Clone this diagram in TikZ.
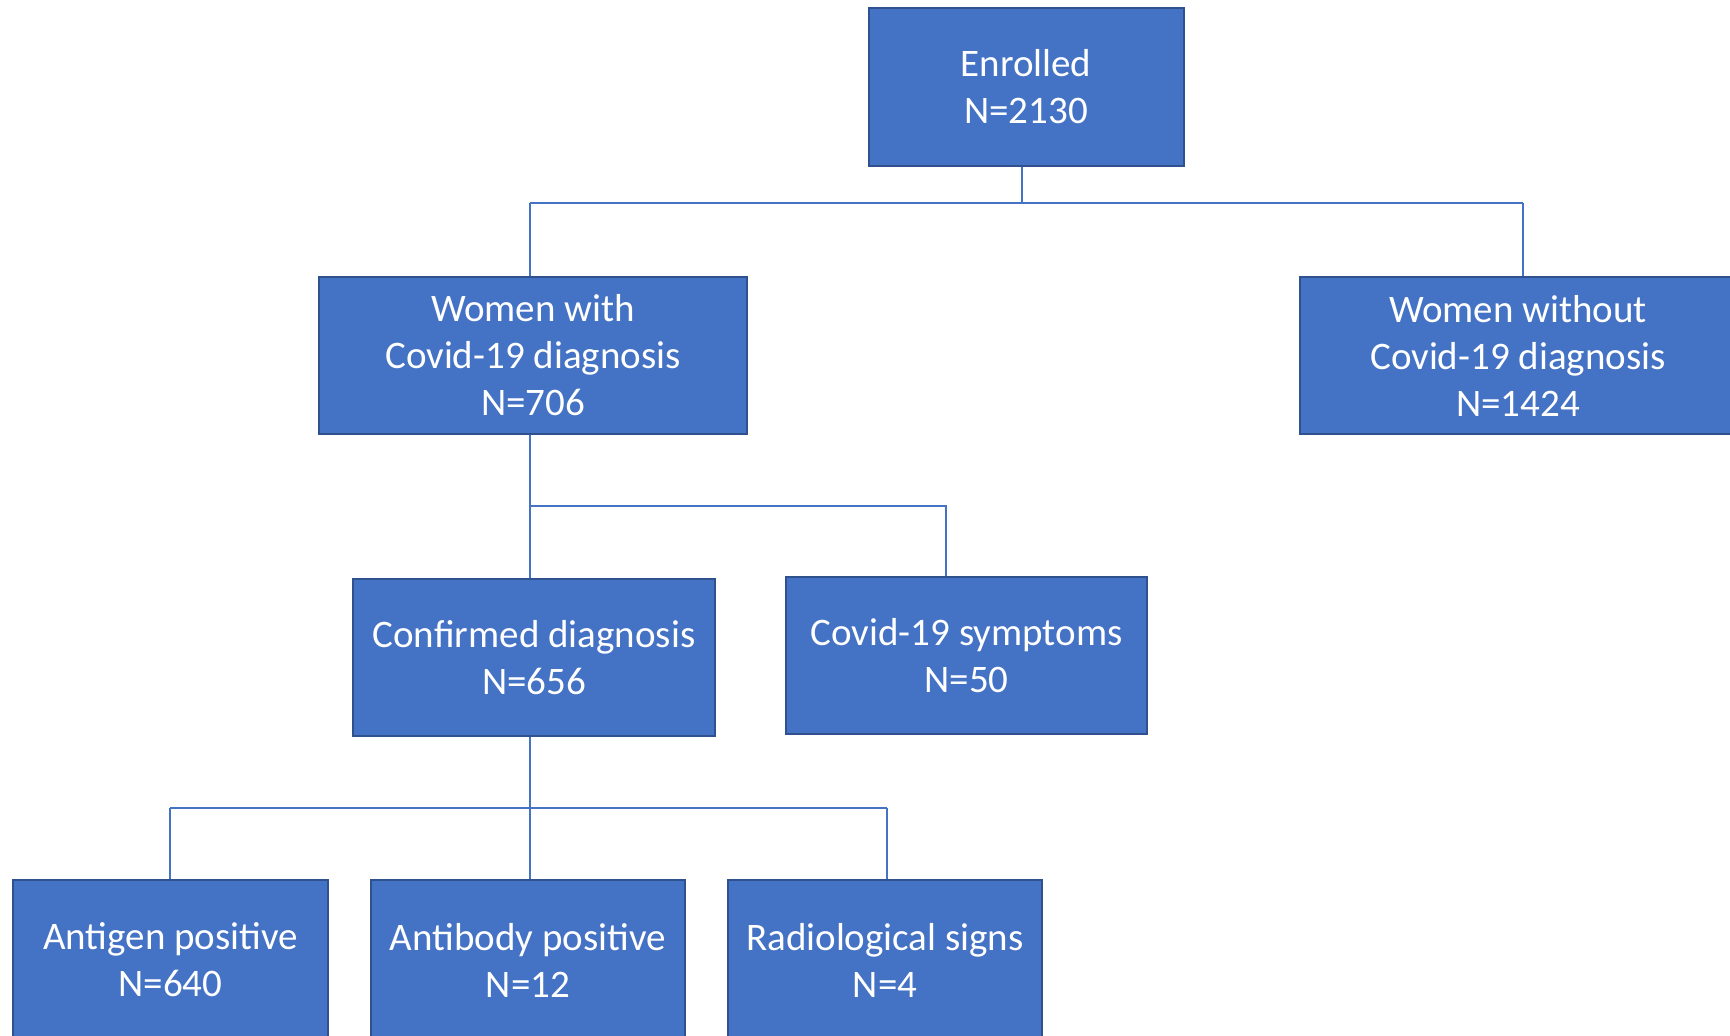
\documentclass[tikz,border=0pt]{standalone}
\usepackage{fontspec}
\setmainfont{Carlito}
\definecolor{boxblue}{HTML}{4472C4}
\definecolor{rimblue}{HTML}{2F528F}

\begin{document}
\begin{tikzpicture}[
        x=0.5pt, y=-0.5pt,
        every node/.style={rectangle, fill=boxblue, draw=rimblue, line width=1pt,
            text=white, align=center, inner sep=0pt,
            font=\fontsize{19.5}{23.5}\selectfont},
        link/.style={draw=boxblue, line width=0.9pt}
    ]
 \useasboundingbox (0,0) rectangle (1730,1036);
 \clip (0,0) rectangle (1730,1036);

 \node[minimum width=157.5pt, minimum height=79pt] (enrol) at (1026,87) {Enrolled\\N=2130};
 \node[minimum width=214pt, minimum height=78.5pt] (withdx) at (533,355.5) {Women with\\Covid-19 diagnosis\\N=706};
 \node[minimum width=218pt, minimum height=78.5pt] (withoutdx) at (1518,355.5) {Women without\\Covid-19 diagnosis\\N=1424};
 \node[minimum width=181pt, minimum height=78.5pt] (confirmed) at (534,657.5) {Confirmed diagnosis\\N=656};
 \node[minimum width=180.5pt, minimum height=78.5pt] (symptoms) at (966.5,655.5) {Covid-19 symptoms\\N=50};
 \node[minimum width=157.5pt, minimum height=80pt] (antigen) at (170.5,960) {Antigen positive\\N=640};
 \node[minimum width=157pt, minimum height=80pt] (antibody) at (528,960) {Antibody positive\\N=12};
 \node[minimum width=157pt, minimum height=80pt] (radio) at (885,960) {Radiological signs\\N=4};

 % first split
 \coordinate (bar1) at (1022,203);
 \draw[link] (enrol.south -| bar1) -- (bar1);
 \draw[link] (530,203) -- (1523,203);
 \draw[link] (530,203) -- (withdx.north -| 530,0);
 \draw[link] (1523,203) -- (withoutdx.north -| 1523,0);

 % second split
 \coordinate (bar2) at (530,506);
 \draw[link] (withdx.south -| bar2) -- (bar2) -- (946,506) -- (symptoms.north -| 946,0);
 \draw[link] (bar2) -- (confirmed.north -| bar2);

 % third split
 \coordinate (bar3) at (530,808);
 \draw[link] (confirmed.south -| bar3) -- (bar3);
 \draw[link] (170,808) -- (887,808);
 \draw[link] (170,808) -- (antigen.north -| 170,0);
 \draw[link] (bar3) -- (antibody.north -| bar3);
 \draw[link] (887,808) -- (radio.north -| 887,0);
\end{tikzpicture}
\end{document}
